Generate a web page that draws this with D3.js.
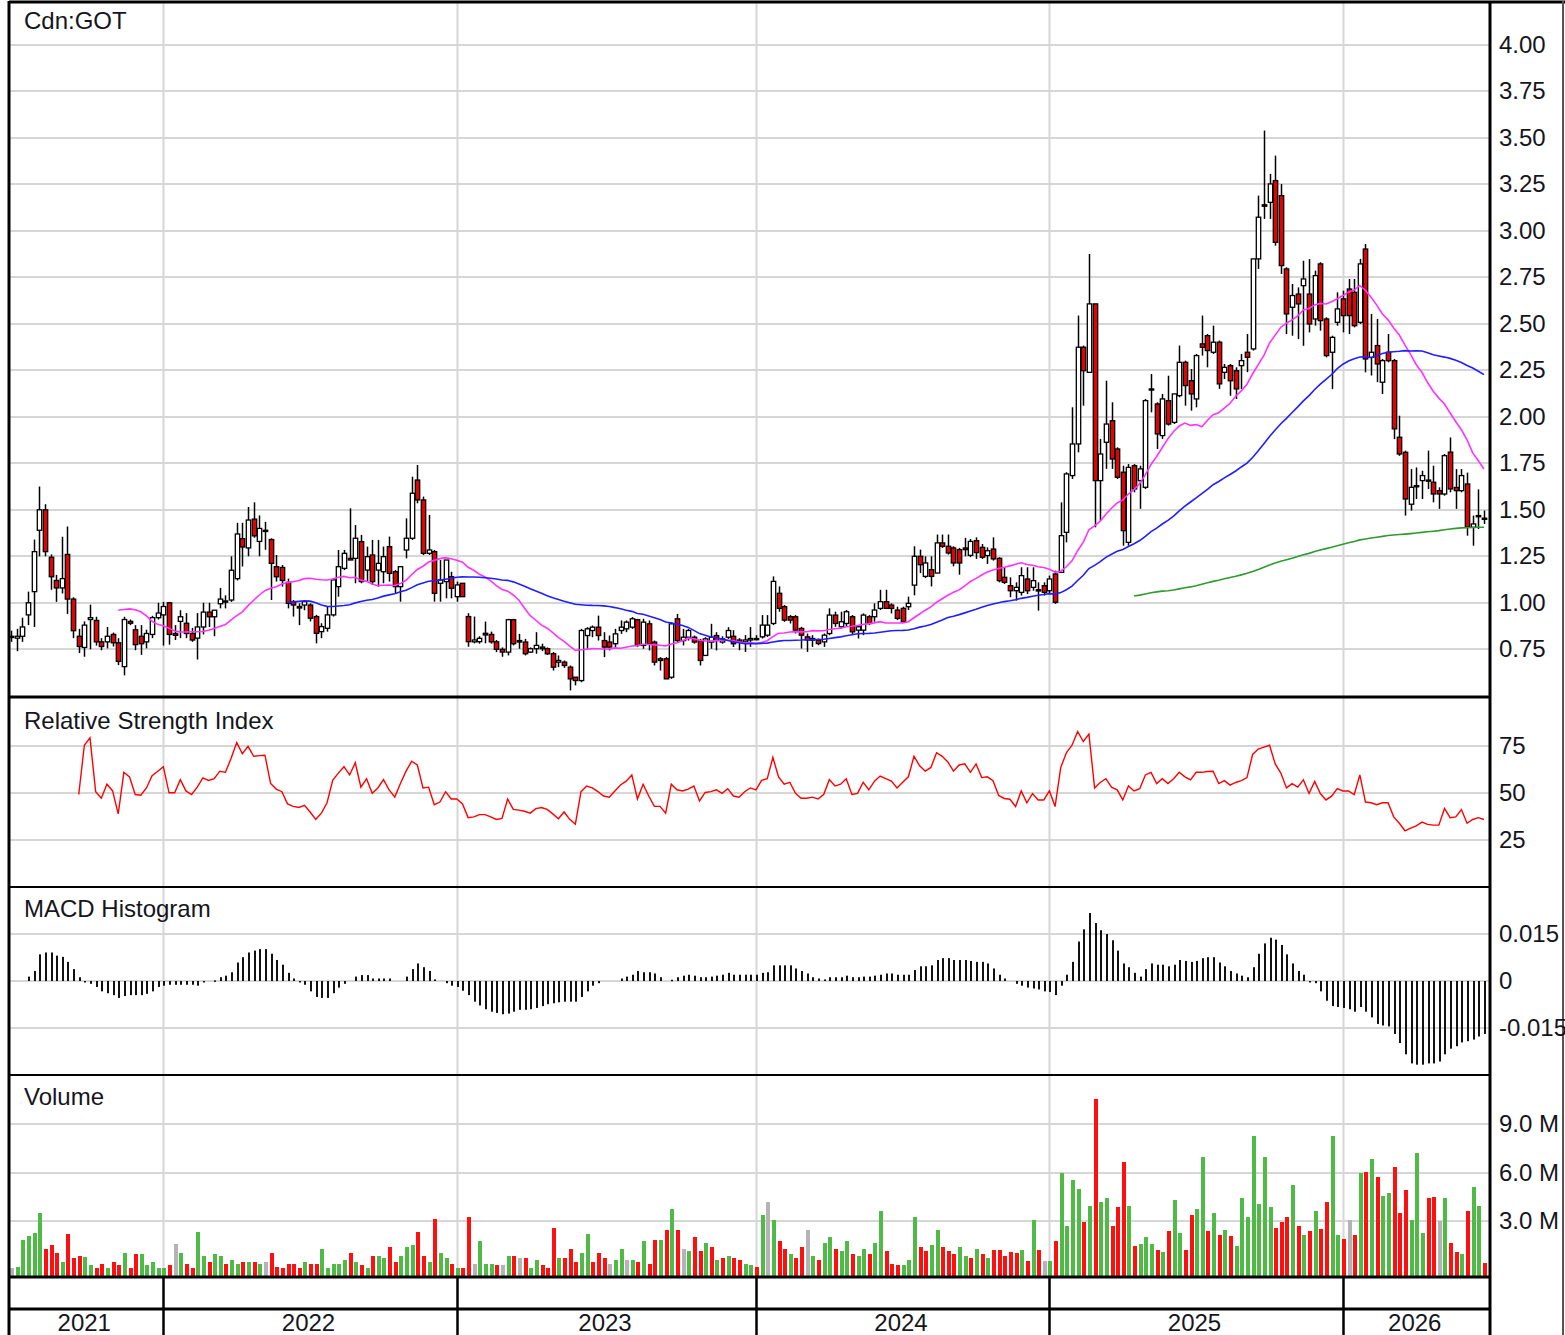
<!DOCTYPE html>
<html><head><meta charset="utf-8">
<script src="https://cdn.jsdelivr.net/npm/d3@7"></script>
<style>
body{margin:0;background:#fff;}
svg{display:block;font-family:"Liberation Sans",Arial,sans-serif;}
</style></head><body>
<svg id="c" width="1565" height="1335"></svg>
<script>
// ---------------- DATA (weekly bars) ----------------
const openP = [
.82,.81,.82,.935,1.06,1.39,1.50,1.245,1.12,1.08,
1.26,1.02,.82,.76,.91,.905,.79,.79,.83,.785,
.657,.90,.855,.82,.79,.83,.92,.935,1.0,.835,
.90,.89,.835,.81,.87,.95,.925,.995,1.01,1.015,
1.13,1.345,1.295,1.45,1.33,1.39,1.34,1.194,1.19,1.11,
1.006,.98,.988,.988,.926,.845,.863,.935,1.087,1.185,
1.239,1.239,1.329,1.176,1.257,1.176,1.167,1.302,1.167,1.087,
1.284,1.347,1.66,1.553,1.266,1.275,1.105,1.114,1.14,1.033,
1.105,.926,.79,.791,.836,.83,.79,.75,.735,.909,
.797,.789,.735,.753,.762,.753,.726,.681,.681,.654,
.60,.582,.824,.851,.869,.797,.789,.78,.851,.86,
.869,.909,.771,.887,.789,.699,.699,.60,.914,.797,
.815,.815,.797,.717,.789,.824,.789,.815,.82,.80,
.79,.80,.808,.817,.826,.889,1.051,.979,.925,.925,
.862,.817,.799,.799,.79,.835,.934,.871,.889,.925,
.853,.853,.925,.925,.97,1.006,.988,.961,.97,.979,
1.095,1.25,1.142,1.178,1.16,1.322,1.304,1.295,1.286,1.295,
1.255,1.334,1.298,1.254,1.289,1.239,1.137,1.092,1.065,1.056,
1.128,1.083,1.07,1.092,1.065,1.155,1.164,1.379,1.684,1.854,
2.374,2.239,2.607,1.657,1.863,1.979,1.827,1.702,1.325,1.737,
1.657,1.621,2.145,2.069,1.899,2.087,1.97,2.114,2.293,2.194,
2.096,2.392,2.436,2.347,2.401,2.239,2.275,2.248,2.275,2.347,
2.365,2.849,3.14,3.153,3.27,3.189,2.795,2.589,2.66,2.705,
2.66,2.526,2.822,2.526,2.347,2.508,2.634,2.687,2.669,2.508,
2.902,2.32,2.383,2.186,2.347,2.302,1.89,1.809,1.53,1.625,
1.657,1.66,1.648,1.603,1.585,1.81,1.62,1.603,1.639,1.406,
1.465,1.455];
const highP = [
.85,.86,.92,1.06,1.34,1.625,1.53,1.26,1.15,1.355,
1.41,1.03,.86,.90,.99,.925,.81,.87,.84,.81,
.925,.91,.88,.88,.855,.93,1.0,1.005,1.005,.88,
.96,.945,.865,.945,1.0,1.0,.96,1.08,1.04,1.25,
1.43,1.43,1.515,1.54,1.47,1.435,1.347,1.257,1.203,1.13,
1.015,.997,1.015,.997,.935,.89,.98,1.132,1.284,1.284,
1.508,1.418,1.365,1.302,1.338,1.338,1.302,1.356,1.176,1.194,
1.454,1.678,1.741,1.571,1.472,1.284,1.23,1.23,1.167,1.114,
1.105,.944,.926,.82,.899,.845,.80,.76,.914,.914,
.833,.806,.76,.842,.78,.76,.735,.717,.69,.663,
.60,.86,.869,.878,.931,.842,.824,.86,.905,.905,
.923,.914,.914,.905,.797,.708,.708,.896,.94,.86,
.86,.824,.806,.815,.887,.842,.82,.869,.853,.81,
.826,.87,.826,.934,.934,1.142,1.088,.988,.934,.934,
.871,.835,.826,.808,.835,.97,.952,.952,.961,.934,
.88,.943,.934,.997,1.07,1.07,.997,.979,.979,1.033,
1.304,1.286,1.25,1.25,1.367,1.367,1.367,1.304,1.295,1.349,
1.343,1.352,1.316,1.298,1.352,1.245,1.191,1.137,1.11,1.191,
1.191,1.191,1.11,1.11,1.146,1.173,1.54,1.702,2.051,2.544,
2.383,2.875,2.607,1.881,2.194,2.078,1.836,1.737,1.746,1.746,
1.737,2.096,2.23,2.078,2.123,2.221,2.123,2.383,2.302,2.257,
2.338,2.544,2.445,2.49,2.41,2.284,2.284,2.266,2.338,2.445,
2.849,3.189,3.539,3.306,3.404,3.252,2.804,2.714,2.696,2.839,
2.848,2.786,2.831,2.535,2.436,2.669,2.678,2.741,2.741,2.849,
2.929,2.553,2.526,2.311,2.445,2.311,2.006,1.818,1.719,1.728,
1.71,1.818,1.737,1.621,1.80,1.889,1.719,1.719,1.70,1.469,
1.61,1.496];
const lowP = [
.79,.74,.79,.88,.87,1.25,1.25,1.07,1.005,1.05,
.94,.81,.73,.71,.75,.77,.745,.755,.765,.665,
.61,.88,.745,.72,.755,.81,.91,.77,.775,.80,
.81,.81,.79,.695,.83,.87,.82,.97,.97,1.005,
1.12,1.195,1.25,1.35,1.25,1.285,1.015,1.114,1.087,.97,
.926,.88,.96,.90,.782,.81,.845,.926,1.033,1.176,
1.23,1.105,1.105,1.114,1.096,1.087,1.105,1.114,1.051,1.006,
1.239,1.338,1.535,1.257,1.257,1.006,1.006,1.024,1.024,1.006,
1.033,.764,.782,.78,.782,.78,.735,.71,.717,.771,
.753,.717,.73,.726,.74,.72,.636,.654,.65,.529,
.556,.573,.753,.815,.797,.708,.744,.762,.833,.842,
.86,.762,.753,.744,.663,.636,.591,.591,.789,.771,
.797,.78,.663,.717,.753,.744,.78,.806,.763,.745,
.736,.763,.799,.808,.817,.88,.952,.898,.889,.835,
.754,.736,.763,.772,.763,.826,.871,.862,.871,.826,
.808,.826,.88,.898,.961,.97,.943,.907,.898,.961,
1.04,1.16,1.133,1.088,1.16,1.295,1.259,1.196,1.151,1.25,
1.245,1.236,1.236,1.209,1.227,1.11,1.101,1.03,1.012,1.039,
1.047,1.065,.958,1.039,1.047,.994,1.164,1.325,1.666,1.809,
2.06,2.239,1.406,1.442,1.72,1.72,1.666,1.307,1.307,1.594,
1.505,1.612,2.024,1.827,1.881,1.953,1.961,2.105,2.06,2.033,
2.051,2.329,2.266,2.338,2.15,2.203,2.113,2.096,2.15,2.24,
2.356,2.795,3.064,3.064,2.92,2.768,2.445,2.436,2.418,2.382,
2.454,2.49,2.463,2.32,2.149,2.49,2.454,2.445,2.481,2.499,
2.239,2.222,2.186,2.123,2.293,1.88,1.79,1.469,1.496,1.558,
1.558,1.612,1.54,1.505,1.576,1.594,1.505,1.594,1.361,1.307,
1.397,1.424];
const closeP = [
.82,.82,.87,1.0,1.275,1.50,1.275,1.14,1.08,1.13,
1.02,.85,.765,.88,.92,.79,.765,.82,.785,.685,
.91,.89,.775,.78,.835,.92,.945,.98,.83,.825,
.925,.835,.80,.87,.95,.925,.96,1.02,1.005,1.175,
1.37,1.30,1.445,1.36,1.40,1.385,1.212,1.14,1.12,.997,
.988,.972,1.006,.917,.836,.872,.935,1.123,1.194,1.266,
1.23,1.347,1.114,1.248,1.114,1.212,1.248,1.158,1.087,1.194,
1.347,1.589,1.553,1.266,1.284,1.051,1.123,1.23,1.078,1.096,
1.033,.791,.80,.809,.827,.79,.75,.735,.909,.78,
.789,.726,.753,.771,.753,.726,.654,.69,.663,.591,
.582,.851,.86,.869,.824,.762,.762,.833,.869,.896,
.914,.771,.896,.78,.681,.69,.591,.887,.797,.815,
.851,.789,.69,.806,.815,.797,.806,.851,.78,.79,
.80,.808,.806,.88,.88,1.115,.97,.907,.907,.853,
.826,.80,.808,.781,.826,.934,.889,.898,.952,.844,
.871,.934,.889,.961,1.006,.97,.97,.916,.898,.997,
1.25,1.205,1.214,1.142,1.322,1.304,1.268,1.214,1.214,1.286,
1.33,1.27,1.245,1.28,1.236,1.119,1.11,1.065,1.083,1.146,
1.065,1.119,1.065,1.056,1.128,1.003,1.361,1.693,1.854,2.374,
2.248,2.607,1.657,1.80,1.961,1.773,1.675,1.388,1.728,1.612,
1.72,2.087,2.15,1.908,2.096,1.961,2.123,2.293,2.168,2.123,
2.329,2.374,2.356,2.401,2.177,2.266,2.194,2.15,2.302,2.32,
2.849,3.073,3.132,3.252,2.938,2.813,2.553,2.652,2.607,2.741,
2.499,2.759,2.517,2.329,2.427,2.58,2.544,2.544,2.49,2.822,
2.311,2.347,2.284,2.302,2.302,1.935,1.80,1.558,1.621,1.63,
1.684,1.657,1.585,1.585,1.791,1.612,1.603,1.684,1.406,1.424,
1.469,1.45];
// volume in millions of shares
const volumeM = [
.1,.15,1.85,2.08,2.24,3.5,1.28,1.53,1.05,.48,
2.22,.69,.82,.8,.25,.11,.34,.1,.48,.27,
1.05,.11,.94,.94,.25,.48,.1,.11,.25,1.6,
1.05,.37,.1,2.34,.82,.48,.94,.82,.37,.6,
.37,.48,.48,.48,.37,.48,1.05,.16,.1,.37,
.37,.11,.48,.34,.34,1.28,.11,.34,.34,.6,
1.05,.48,.25,.1,.82,.82,.71,1.4,.48,.82,
1.4,1.53,2.34,.82,.48,3.14,1.05,.71,.37,.11,
.11,3.27,.37,1.74,.37,.37,.3,.25,.82,.82,
.71,.71,.1,.6,.3,.1,2.59,.71,.71,1.28,
.48,1.05,2.22,.48,1.05,.71,.37,.6,1.28,.6,
.6,.48,1.74,.37,1.85,1.85,2.45,3.73,2.45,1.28,
1.17,2.0,1.17,1.65,1.4,.6,.71,.82,.71,.6,
.37,.25,.18,3.39,4.19,3.05,1.76,1.28,.94,.71,
1.4,2.45,.82,.6,1.65,2.0,1.28,1.17,1.76,.94,
.82,1.28,.94,1.63,3.62,1.17,.37,.25,.25,.6,
3.27,1.4,1.17,1.51,2.45,1.4,1.17,.94,1.4,.82,
.71,1.28,.94,.71,1.18,1.18,.84,1.07,1.0,1.18,
.5,3.05,1.18,.5,.5,1.77,6.0,2.7,5.55,4.98,
2.93,3.95,10.55,4.18,4.41,2.7,3.84,6.64,3.95,1.45,
1.57,2.02,1.57,1.18,1.07,2.36,4.3,2.25,1.18,3.39,
3.73,6.95,2.36,3.5,2.14,2.45,2.09,1.45,4.41,3.27,
8.23,4.07,6.95,3.84,2.59,2.93,3.27,5.2,2.7,2.14,
2.36,3.61,2.48,4.18,8.23,2.14,1.91,3.05,2.14,6.0,
6.05,6.84,5.73,4.52,4.75,6.34,3.5,4.91,3.05,7.18,
2.25,4.41,4.48,2.98,4.41,1.64,1.07,.95,3.61,5.09,
3.95,.39];
// change versus previous week: 1 up, -1 down, 0 unchanged
const volDir = [
0,1,1,1,1,1,-1,-1,-1,1,
-1,-1,-1,1,1,-1,-1,1,-1,-1,
1,-1,-1,1,1,1,1,1,-1,0,
1,-1,-1,1,1,-1,1,1,-1,1,
1,-1,1,-1,1,0,-1,-1,-1,-1,
-1,-1,1,-1,-1,1,1,1,1,1,
-1,1,-1,1,-1,1,1,-1,-1,1,
1,1,-1,-1,1,-1,1,1,-1,1,
-1,-1,0,1,1,1,-1,0,1,-1,
0,-1,1,1,-1,-1,-1,1,-1,-1,
-1,1,1,-1,-1,-1,0,1,1,0,
1,-1,1,-1,-1,1,-1,1,-1,0,
1,-1,-1,1,-1,1,-1,1,-1,-1,
1,1,-1,1,0,1,-1,-1,1,-1,
-1,0,1,-1,1,1,-1,1,1,-1,
1,1,-1,1,1,-1,-1,-1,1,1,
1,-1,-1,1,1,-1,-1,-1,1,1,
-1,1,-1,1,-1,-1,-1,-1,-1,1,
-1,1,-1,0,1,-1,1,1,1,1,
-1,1,-1,1,1,-1,-1,-1,1,-1,
1,1,1,-1,1,-1,1,1,-1,-1,
1,1,-1,1,-1,1,-1,1,1,1,
1,1,1,1,-1,-1,-1,1,-1,1,
-1,1,-1,-1,1,1,-1,0,-1,1,
-1,1,-1,1,1,-1,-1,-1,1,1,
1,-1,-1,0,1,-1,-1,1,-1,1,
1,-1];
const rsiVals = [
null,null,null,null,null,null,null,null,null,null,
null,null,49.2,75.4,79.3,50.7,47.2,54.7,51.1,38.9,
61.0,58.6,49.2,48.8,52.7,59.2,61.6,64.0,50.1,50.1,
57.1,51.1,49.2,53.1,58.0,56.7,57.6,61.6,61.0,68.5,
76.8,70.9,74.8,69.5,69.9,70.1,55.1,52.1,50.7,44.2,
42.9,42.3,43.4,39.9,35.9,39.3,44.8,56.7,60.6,64.0,
59.6,66.1,53.1,57.6,49.8,52.7,57.1,51.7,47.8,55.1,
61.6,66.9,64.9,52.7,53.1,43.8,45.2,50.7,46.8,46.8,
44.2,36.9,37.3,38.5,38.5,37.3,35.9,36.5,46.8,41.3,
40.9,40.3,39.3,41.7,42.3,41.3,38.9,36.3,39.9,36.0,
33.4,50.7,53.7,52.7,50.7,48.4,47.8,51.1,54.3,56.3,
59.6,46.8,54.7,48.4,42.9,42.9,39.3,54.7,51.7,51.1,
52.1,53.7,45.8,50.3,50.7,51.7,49.8,52.3,48.4,47.8,
50.7,52.7,51.7,56.7,57.6,68.9,58.6,54.7,55.7,49.8,
47.2,47.2,47.8,46.8,49.2,57.1,53.7,54.7,57.6,49.2,
49.8,55.7,51.7,56.3,59.0,57.6,56.3,52.7,55.7,58.6,
69.5,64.5,61.6,63.6,71.4,69.5,66.5,61.6,64.9,65.5,
61.0,65.5,58.2,58.6,56.5,48.7,47.1,46.7,42.8,51.1,
44.8,49.7,46.3,46.3,51.1,42.8,63.5,71.4,75.4,82.7,
77.4,81.3,52.7,55.6,57.6,53.1,51.7,46.3,53.7,51.1,
52.3,59.6,61.0,55.0,57.6,55.0,57.6,61.0,58.6,57.0,
61.0,61.0,61.4,61.6,55.0,56.6,54.2,55.6,56.6,58.2,
70.5,73.4,74.4,75.4,65.5,60.6,52.7,55.0,53.1,57.0,
49.7,56.2,49.7,46.3,48.3,52.3,51.1,51.1,49.1,59.6,
45.2,44.8,43.8,44.8,44.8,37.3,33.9,29.9,31.3,32.5,
34.5,33.3,32.9,32.9,41.8,36.9,37.3,41.2,33.9,35.9,
36.9,35.9];
const macdHist = [
null,null,null,.0014,.0032,.0085,.0091,.0091,.0081,.0077,
.0061,.0038,.0012,-.0003,-.0009,-.0019,-.0033,-.0039,-.0045,-.0054,
-.0048,-.0045,-.0045,-.0045,-.0041,-.0033,-.0019,-.0015,-.0012,-.0012,
-.0012,-.0012,-.0012,-.0015,-.0002,0,.0002,.0012,.0017,.0028,
.0059,.0076,.0091,.0097,.0102,.0102,.0087,.0067,.0052,.0026,
.0008,-.0004,-.0012,-.0033,-.0051,-.0054,-.0054,-.0039,-.0021,-.0009,
0,.0014,.0019,.0019,.0008,.0008,.0008,.0008,0,0,
.0014,.0038,.0056,.0044,.0032,.0005,0,-.0007,-.0015,-.0019,
-.0031,-.0045,-.0066,-.0078,-.009,-.0098,-.0102,-.0106,-.0104,-.0098,
-.0092,-.0092,-.009,-.0086,-.008,-.0074,-.0071,-.0068,-.0066,-.0066,
-.0066,-.0051,-.0033,-.0015,-.0007,0,0,0,.0008,.0014,
.002,.0032,.0028,.0028,.0024,.0012,0,.0004,.0012,.0017,
.002,.0017,.0012,.0012,.0014,.0017,.002,.0026,.002,.002,
.002,.002,.002,.0026,.0028,.005,.005,.005,.005,.004,
.0032,.0024,.0012,.0008,.0005,.0012,.0012,.0012,.0017,.0012,
.0012,.0014,.0014,.0017,.002,.0024,.0024,.002,.002,.002,
.0035,.0047,.0047,.005,.0067,.0073,.0073,.0067,.0067,.0067,
.0064,.0061,.0061,.0056,.004,.002,.0008,0,-.0009,-.0015,
-.0021,-.0024,-.0027,-.0033,-.0035,-.0045,-.0015,.002,.0061,.0126,
.0165,.0217,.0185,.0162,.015,.013,.0097,.0056,.0044,.0026,
.0014,.0038,.0056,.0052,.0052,.0047,.0052,.0067,.0064,.0061,
.0064,.0073,.0076,.0076,.0059,.0047,.0032,.0024,.0017,.0012,
.0044,.0087,.012,.0138,.0132,.0115,.0085,.0056,.0032,.002,
-.0004,-.0007,-.0033,-.0063,-.008,-.0083,-.0086,-.009,-.0098,-.0083,
-.0098,-.0116,-.0137,-.0142,-.0145,-.0169,-.0198,-.0234,-.0263,-.0267,
-.0267,-.0263,-.0263,-.0257,-.0234,-.0216,-.0208,-.0196,-.0192,-.0187,
-.0177,-.0169];
const priceTicks = [0.75,1.00,1.25,1.50,1.75,2.00,2.25,2.50,2.75,3.00,3.25,3.50,3.75,4.00];
const rsiTicks = [25,50,75];
const macdTicks = [-0.015,0,0.015];
const volTicks = [3,6,9];
const years = ["2021","2022","2023","2024","2025","2026"];
const yearStartBar = [27,79,132,184,236];   // first weekly bar of 2022..2026
const maPeriods = [20,50,200];
const title = "Cdn:GOT";

// ---------------- LAYOUT ----------------
const N = closeP.length;
const L = 9, R = 1490;
const svg = d3.select("#c");
const x = d3.scaleLinear().domain([0, N-1]).range([11, 1484]);
const yP = d3.scaleLinear().domain([0.75, 4]).range([649.3, 44.8]);
const yR = d3.scaleLinear().domain([0, 100]).range([887, 699]);
const yM = d3.scaleLinear().domain([-0.03, 0.03]).range([1075, 887]);
const yV = d3.scaleLinear().domain([3, 9]).range([1221, 1124]);
const panels = {price:[3,696], rsi:[699,887], macd:[887,1075], vol:[1075,1277]};
const GRID = "#d6d6d6";

const defs = svg.append("defs");
Object.entries(panels).forEach(([k,[t,b]]) => {
  defs.append("clipPath").attr("id","clip-"+k).append("rect")
    .attr("x",L+1).attr("y",t).attr("width",R-L-2).attr("height",b-t);
});

// horizontal grid
function hgrid(scale, ticks){
  svg.append("g").selectAll("line").data(ticks).join("line")
    .attr("x1",L).attr("x2",R).attr("y1",d=>Math.round(scale(d))).attr("y2",d=>Math.round(scale(d)))
    .attr("stroke",GRID).attr("stroke-width",2);
}
hgrid(yP, priceTicks); hgrid(yR, rsiTicks); hgrid(yM, macdTicks); hgrid(yV, volTicks);
// vertical year grid
svg.append("g").selectAll("line").data(yearStartBar).join("line")
  .attr("x1",d=>Math.round(x(d))+0.5).attr("x2",d=>Math.round(x(d))+0.5)
  .attr("y1",3).attr("y2",1277).attr("stroke",GRID).attr("stroke-width",2);

// ---------------- PRICE ----------------
const gP = svg.append("g").attr("clip-path","url(#clip-price)");
const idx = d3.range(N);
const cx = i => Math.round(x(i));
gP.append("g").selectAll("line").data(idx).join("line")
  .attr("x1",i=>cx(i)+0.5).attr("x2",i=>cx(i)+0.5)
  .attr("y1",i=>yP(Math.max(highP[i],openP[i],closeP[i])))
  .attr("y2",i=>yP(Math.min(lowP[i],openP[i],closeP[i])))
  .attr("stroke","#000").attr("stroke-width",1.5);
gP.append("g").selectAll("rect").data(idx).join("rect")
  .attr("x",i=>cx(i)-1.7).attr("width",4.4)
  .attr("y",i=>yP(Math.max(openP[i],closeP[i])))
  .attr("height",i=>Math.max(1.2, Math.abs(yP(openP[i])-yP(closeP[i]))))
  .attr("fill",i=>closeP[i]<openP[i]?"#e80000":"#ffffff")
  .attr("stroke","#000").attr("stroke-width",1.3);

function sma(a,n){ return a.map((_,i)=> i<n-1 ? null : d3.mean(a.slice(i-n+1,i+1))); }
const maColors = ["#ff33ff","#1f1fff","#2f9a2f"];
const line = d3.line().defined(d=>d[1]!=null).x(d=>x(d[0])).y(d=>yP(d[1]));
maPeriods.forEach((p,k)=>{
  const m = sma(closeP,p).map((v,i)=>[i,v]);
  gP.append("path").datum(m).attr("d",line).attr("fill","none")
    .attr("stroke",maColors[k]).attr("stroke-width",1.6);
});

// ---------------- RSI ----------------
const gR = svg.append("g").attr("clip-path","url(#clip-rsi)");
gR.append("path").datum(rsiVals.map((v,i)=>[i,v]))
  .attr("d", d3.line().defined(d=>d[1]!=null).x(d=>x(d[0])).y(d=>yR(d[1])))
  .attr("fill","none").attr("stroke","#ff0000").attr("stroke-width",1.4);

// ---------------- MACD ----------------
const gM = svg.append("g").attr("clip-path","url(#clip-macd)");
gM.append("g").selectAll("rect").data(idx.filter(i=>macdHist[i]!=null && macdHist[i]!==0)).join("rect")
  .attr("x",i=>cx(i)).attr("width",2)
  .attr("y",i=>macdHist[i]>0 ? yM(macdHist[i]) : yM(0))
  .attr("height",i=>Math.max(1.5, Math.abs(yM(macdHist[i])-yM(0))))
  .attr("fill","#111");

// ---------------- VOLUME ----------------
const gV = svg.append("g").attr("clip-path","url(#clip-vol)");
const volColor = d => d>0 ? "#4fba45" : d<0 ? "#ff1010" : "#b4b4b4";
gV.append("g").selectAll("rect").data(idx).join("rect")
  .attr("x",i=>cx(i)-1).attr("width",4)
  .attr("y",i=>yV(volumeM[i])).attr("height",i=>1277-yV(volumeM[i]))
  .attr("fill",i=>volColor(volDir[i])).attr("shape-rendering","crispEdges");

// ---------------- FRAME ----------------
const frame = svg.append("g").attr("stroke","#000").attr("fill","none");
[[697,3],[887,2],[1075,2],[1277,3],[1309,3]].forEach(([y,w])=>{
  frame.append("line").attr("x1",L).attr("x2",R).attr("y1",y).attr("y2",y).attr("stroke-width",w);
});
frame.append("line").attr("x1",L).attr("x2",1565).attr("y1",2).attr("y2",2).attr("stroke-width",3);
frame.append("line").attr("x1",L).attr("x2",L).attr("y1",1).attr("y2",1335).attr("stroke-width",3);
frame.append("line").attr("x1",R).attr("x2",R).attr("y1",1).attr("y2",1335).attr("stroke-width",3);
frame.append("line").attr("x1",1563).attr("x2",1563).attr("y1",1).attr("y2",1335).attr("stroke-width",2).attr("stroke","#555");
frame.selectAll("line.ys").data(yearStartBar).join("line").attr("class","ys")
  .attr("x1",d=>Math.round(x(d))+0.5).attr("x2",d=>Math.round(x(d))+0.5)
  .attr("y1",1277).attr("y2",1335).attr("stroke-width",2.5);

// ---------------- TEXT ----------------
const FS = 24, TC = "#151520";
function rightAxis(scale, ticks, fmt){
  const g = svg.append("g").attr("transform",`translate(${R},0)`)
    .call(d3.axisRight(scale).tickValues(ticks).tickSize(0).tickPadding(9).tickFormat(fmt));
  g.select(".domain").remove();
  g.selectAll("text").attr("font-size",FS).attr("fill",TC)
    .attr("font-family",'"Liberation Sans",Arial,sans-serif');
}
rightAxis(yP, priceTicks, d=>d.toFixed(2));
rightAxis(yR, rsiTicks, d=>String(d));
rightAxis(yM, macdTicks, d=> d===0 ? "0" : d.toFixed(3));
rightAxis(yV, volTicks, d=>d.toFixed(1)+" M");

const titles = [[title,29],["Relative Strength Index",729],["MACD Histogram",917],["Volume",1105]];
svg.append("g").selectAll("text").data(titles).join("text")
  .attr("x",24).attr("y",d=>d[1]).text(d=>d[0])
  .attr("font-size",FS).attr("fill",TC);

const bounds = [L, ...yearStartBar.map(b=>Math.round(x(b))+0.5), R];
svg.append("g").selectAll("text").data(years).join("text")
  .attr("x",(d,i)=>(bounds[i]+bounds[i+1])/2 - 2).attr("y",1331)
  .attr("text-anchor","middle").attr("font-size",FS).attr("fill",TC).text(d=>d);
</script>
</body></html>
